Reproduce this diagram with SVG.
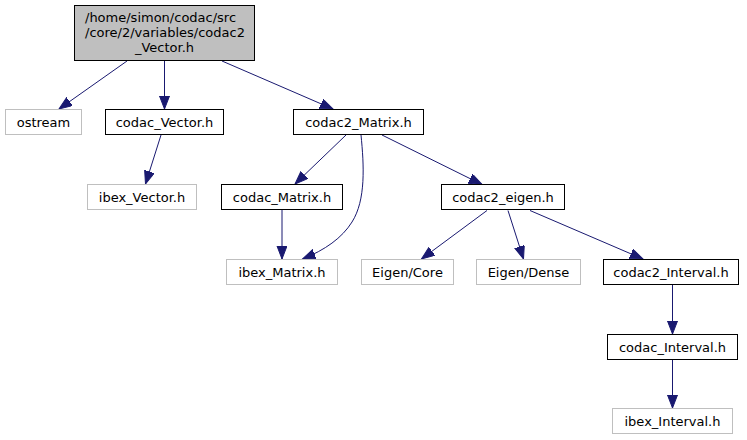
<svg xmlns="http://www.w3.org/2000/svg" width="747" height="440" viewBox="0 0 747 440">
<style>
text{font-family:"DejaVu Sans",sans-serif;font-size:13px;fill:#000}
.n rect{fill:#fff;stroke:#000;stroke-width:1}
.x rect{fill:#fff;stroke:#bfbfbf;stroke-width:1}
.m rect{fill:#bfbfbf;stroke:#000;stroke-width:1}
.c{text-anchor:middle}
#edges path{fill:none;stroke:#191970;stroke-width:1;marker-end:url(#ah)}
</style>
<defs>
<marker id="ah" markerUnits="userSpaceOnUse" markerWidth="14" markerHeight="11" refX="13" refY="5" orient="auto">
<path d="M0,0 L13,5 L0,10 z" fill="#191970" stroke="#191970" stroke-width="1"/>
</marker>
</defs>
<rect width="747" height="440" fill="#fff"/>
<g id="edges">
<path d="M127,61 L59,109"/>
<path d="M164.5,61 L164.5,109"/>
<path d="M222,61 L333,109"/>
<path d="M161,135 L145.5,184"/>
<path d="M346,135 L295,184"/>
<path d="M361,135 C364,165 366,200 352,222 C342,238 325,250 302.5,259"/>
<path d="M382,135 L482,184.5"/>
<path d="M282,210 L282,259"/>
<path d="M487,210.5 L421.5,259"/>
<path d="M508,210.5 L523.5,259"/>
<path d="M530,210.5 L643,259"/>
<path d="M672.5,285 L672.5,334"/>
<path d="M672.5,360 L672.5,408"/>
</g>
<g id="main" class="m">
<rect x="74.5" y="5.5" width="180" height="55"/>
<text x="85" y="22">/home/simon/codac/src</text>
<text x="85" y="37">/core/2/variables/codac2</text>
<text x="164.5" y="51.5" class="c">_Vector.h</text>
</g>
<g id="ostream" class="x">
<rect x="5.5" y="109.5" width="76" height="25"/>
<text x="43.5" y="126.5" class="c">ostream</text>
</g>
<g id="codac_Vector" class="n">
<rect x="105.5" y="109.5" width="118" height="25"/>
<text x="164.5" y="126.5" class="c">codac_Vector.h</text>
</g>
<g id="codac2_Matrix" class="n">
<rect x="293.5" y="109.5" width="130" height="25"/>
<text x="358.5" y="126.5" class="c">codac2_Matrix.h</text>
</g>
<g id="ibex_Vector" class="x">
<rect x="87.5" y="184.5" width="109" height="25"/>
<text x="142" y="201.5" class="c">ibex_Vector.h</text>
</g>
<g id="codac_Matrix" class="n">
<rect x="221.5" y="184.5" width="121" height="25"/>
<text x="282" y="201.5" class="c">codac_Matrix.h</text>
</g>
<g id="codac2_eigen" class="n">
<rect x="441.5" y="184.5" width="123" height="25"/>
<text x="503" y="201.5" class="c">codac2_eigen.h</text>
</g>
<g id="ibex_Matrix" class="x">
<rect x="226.5" y="259.5" width="111" height="25"/>
<text x="282" y="276.5" class="c">ibex_Matrix.h</text>
</g>
<g id="eigen_core" class="x">
<rect x="361.5" y="259.5" width="92" height="25"/>
<text x="407.5" y="276.5" class="c">Eigen/Core</text>
</g>
<g id="eigen_dense" class="x">
<rect x="476.5" y="259.5" width="104" height="25"/>
<text x="528.5" y="276.5" class="c">Eigen/Dense</text>
</g>
<g id="codac2_Interval" class="n">
<rect x="603.5" y="259.5" width="135" height="25"/>
<text x="671" y="276.5" class="c">codac2_Interval.h</text>
</g>
<g id="codac_Interval" class="n">
<rect x="607.5" y="334.5" width="130" height="25"/>
<text x="672.5" y="351.5" class="c">codac_Interval.h</text>
</g>
<g id="ibex_Interval" class="x">
<rect x="612.5" y="408.5" width="120" height="25"/>
<text x="672.5" y="425.5" class="c">ibex_Interval.h</text>
</g>
</svg>
